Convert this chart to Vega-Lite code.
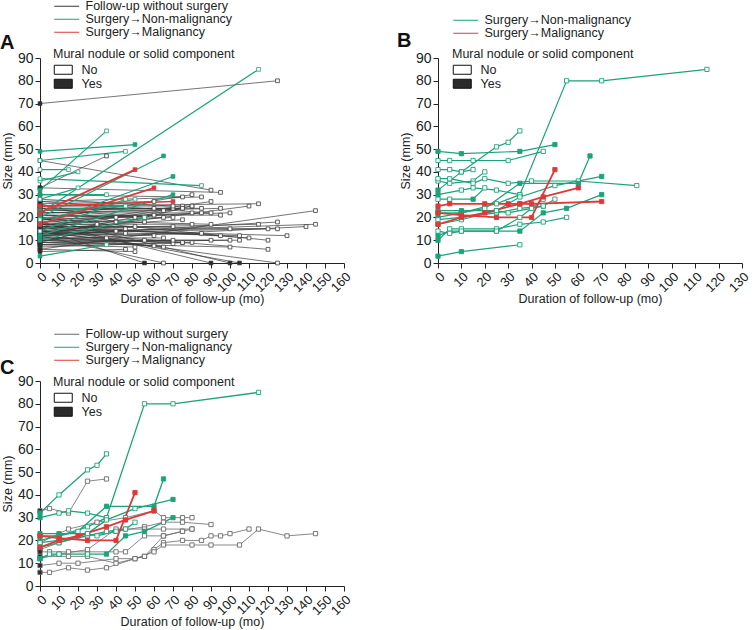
{
"$schema": "https://vega.github.io/schema/vega-lite/v6.json",
"padding": 0,
"background": "white",
"config": {
 "font": "Liberation Sans",
 "view": {"stroke": null},
 "axis": {"grid": false, "domainColor": "#222", "tickColor": "#222", "labelColor": "#222", "titleColor": "#222", "labelFontSize": 14, "titleFontSize": 12.5, "titleFontWeight": "normal", "tickSize": 5, "labelPadding": 2, "labelOverlap": false},
 "legend": {"labelFontSize": 12.5, "titleFontSize": 12.5, "titleFontWeight": "normal", "labelColor": "#222", "titleColor": "#222", "rowPadding": 0, "padding": 0, "orient": "none", "titleLimit": 400, "labelLimit": 400},
 "title": {"font": "Liberation Sans"}
},
"datasets": {"p": [
{"id":"a1","g":"F","t":0,"s":70,"n":"Y","c":0},{"id":"a1","g":"F","t":125,"s":80,"n":"N","c":0},
{"id":"a2","g":"F","t":0,"s":45,"n":"Y","c":0},{"id":"a2","g":"F","t":90,"s":32,"n":"N","c":0},
{"id":"a3","g":"F","t":0,"s":33,"n":"Y","c":0},{"id":"a3","g":"F","t":95,"s":31,"n":"N","c":0},
{"id":"a4","g":"F","t":0,"s":27,"n":"Y","c":0},{"id":"a4","g":"F","t":85,"s":29,"n":"N","c":0},
{"id":"a5","g":"F","t":0,"s":25,"n":"Y","c":0},{"id":"a5","g":"F","t":115,"s":26,"n":"N","c":0},
{"id":"a6","g":"F","t":0,"s":22,"n":"Y","c":0},{"id":"a6","g":"F","t":95,"s":24,"n":"N","c":0},
{"id":"a7","g":"F","t":0,"s":20,"n":"Y","c":0},{"id":"a7","g":"F","t":100,"s":22,"n":"N","c":0},
{"id":"a8","g":"F","t":0,"s":18,"n":"Y","c":0},{"id":"a8","g":"F","t":85,"s":22,"n":"N","c":0},
{"id":"a9","g":"F","t":0,"s":10,"n":"Y","c":0},{"id":"a9","g":"F","t":140,"s":16,"n":"N","c":0},
{"id":"a10","g":"F","t":0,"s":13,"n":"Y","c":0},{"id":"a10","g":"F","t":145,"s":17,"n":"N","c":0},
{"id":"a11","g":"F","t":0,"s":12,"n":"Y","c":0},{"id":"a11","g":"F","t":125,"s":18,"n":"N","c":0},
{"id":"a12","g":"F","t":0,"s":15,"n":"Y","c":0},{"id":"a12","g":"F","t":115,"s":17,"n":"N","c":0},
{"id":"a13","g":"F","t":0,"s":13,"n":"Y","c":0},{"id":"a13","g":"F","t":120,"s":15,"n":"N","c":0},
{"id":"a14","g":"F","t":0,"s":16,"n":"Y","c":0},{"id":"a14","g":"F","t":125,"s":15,"n":"N","c":0},
{"id":"a15","g":"F","t":0,"s":14,"n":"Y","c":0},{"id":"a15","g":"F","t":100,"s":15,"n":"N","c":0},
{"id":"a16","g":"F","t":0,"s":19,"n":"Y","c":0},{"id":"a16","g":"F","t":90,"s":17,"n":"N","c":0},
{"id":"a17","g":"F","t":0,"s":15,"n":"Y","c":0},{"id":"a17","g":"F","t":130,"s":12,"n":"N","c":0},
{"id":"a18","g":"F","t":0,"s":17,"n":"Y","c":0},{"id":"a18","g":"F","t":110,"s":11,"n":"N","c":0},
{"id":"a19","g":"F","t":0,"s":14,"n":"Y","c":0},{"id":"a19","g":"F","t":105,"s":12,"n":"N","c":0},
{"id":"a20","g":"F","t":0,"s":10,"n":"Y","c":0},{"id":"a20","g":"F","t":105,"s":10,"n":"N","c":0},
{"id":"a21","g":"F","t":0,"s":9,"n":"Y","c":0},{"id":"a21","g":"F","t":100,"s":10,"n":"N","c":0},
{"id":"a22","g":"F","t":0,"s":20,"n":"Y","c":0},{"id":"a22","g":"F","t":120,"s":10,"n":"N","c":0},
{"id":"a23","g":"F","t":0,"s":16,"n":"Y","c":0},{"id":"a23","g":"F","t":95,"s":12,"n":"N","c":0},
{"id":"a24","g":"F","t":0,"s":12,"n":"Y","c":0},{"id":"a24","g":"F","t":85,"s":13,"n":"N","c":0},
{"id":"a25","g":"F","t":0,"s":11,"n":"Y","c":0},{"id":"a25","g":"F","t":75,"s":9,"n":"N","c":0},
{"id":"a26","g":"F","t":0,"s":8,"n":"Y","c":0},{"id":"a26","g":"F","t":80,"s":9,"n":"N","c":0},
{"id":"a27","g":"F","t":0,"s":13,"n":"Y","c":0},{"id":"a27","g":"F","t":70,"s":8.5,"n":"N","c":0},
{"id":"a28","g":"F","t":0,"s":9,"n":"Y","c":0},{"id":"a28","g":"F","t":100,"s":7,"n":"N","c":0},
{"id":"a29","g":"F","t":0,"s":14,"n":"Y","c":0},{"id":"a29","g":"F","t":120,"s":6,"n":"N","c":0},
{"id":"a30","g":"F","t":0,"s":12,"n":"Y","c":0},{"id":"a30","g":"F","t":65,"s":7,"n":"N","c":0},
{"id":"a31","g":"F","t":0,"s":10,"n":"Y","c":0},{"id":"a31","g":"F","t":60,"s":7.5,"n":"N","c":0},
{"id":"a32","g":"F","t":0,"s":8,"n":"Y","c":0},{"id":"a32","g":"F","t":50,"s":7,"n":"N","c":0},
{"id":"a33","g":"F","t":0,"s":15,"n":"Y","c":0},{"id":"a33","g":"F","t":55,"s":0,"n":"Y","c":0},
{"id":"a34","g":"F","t":0,"s":12,"n":"Y","c":0},{"id":"a34","g":"F","t":65,"s":0,"n":"N","c":0},
{"id":"a35","g":"F","t":0,"s":18,"n":"Y","c":0},{"id":"a35","g":"F","t":90,"s":0,"n":"Y","c":0},
{"id":"a36","g":"F","t":0,"s":20,"n":"Y","c":0},{"id":"a36","g":"F","t":100,"s":0,"n":"Y","c":0},
{"id":"a37","g":"F","t":0,"s":16,"n":"Y","c":0},{"id":"a37","g":"F","t":105,"s":0,"n":"Y","c":0},
{"id":"a38","g":"F","t":0,"s":14,"n":"Y","c":0},{"id":"a38","g":"F","t":125,"s":0,"n":"N","c":0},
{"id":"a39","g":"F","t":0,"s":24,"n":"Y","c":0},{"id":"a39","g":"F","t":70,"s":24,"n":"N","c":0},
{"id":"a40","g":"F","t":0,"s":22,"n":"Y","c":0},{"id":"a40","g":"F","t":65,"s":23,"n":"N","c":0},
{"id":"a41","g":"F","t":0,"s":23,"n":"Y","c":0},{"id":"a41","g":"F","t":75,"s":24,"n":"N","c":0},
{"id":"a42","g":"F","t":0,"s":17,"n":"Y","c":0},{"id":"a42","g":"F","t":70,"s":20,"n":"N","c":0},
{"id":"a43","g":"F","t":0,"s":15,"n":"Y","c":0},{"id":"a43","g":"F","t":75,"s":19,"n":"N","c":0},
{"id":"a44","g":"F","t":0,"s":21,"n":"Y","c":0},{"id":"a44","g":"F","t":65,"s":20,"n":"N","c":0},
{"id":"a45","g":"F","t":0,"s":19,"n":"Y","c":0},{"id":"a45","g":"F","t":60,"s":21,"n":"N","c":0},
{"id":"a46","g":"F","t":0,"s":13,"n":"Y","c":0},{"id":"a46","g":"F","t":60,"s":12,"n":"N","c":0},
{"id":"a47","g":"F","t":0,"s":11,"n":"Y","c":0},{"id":"a47","g":"F","t":65,"s":11,"n":"N","c":0},
{"id":"a48","g":"F","t":0,"s":9,"n":"Y","c":0},{"id":"a48","g":"F","t":70,"s":10,"n":"N","c":0},
{"id":"a49","g":"F","t":0,"s":7,"n":"Y","c":0},{"id":"a49","g":"F","t":75,"s":9,"n":"N","c":0},
{"id":"a50","g":"F","t":0,"s":26,"n":"Y","c":0},{"id":"a50","g":"F","t":40,"s":18,"n":"N","c":0},
{"id":"a51","g":"F","t":0,"s":24,"n":"Y","c":0},{"id":"a51","g":"F","t":55,"s":20,"n":"N","c":0},
{"id":"a52","g":"F","t":0,"s":21,"n":"Y","c":0},{"id":"a52","g":"F","t":50,"s":20,"n":"N","c":0},
{"id":"a53","g":"F","t":0,"s":28,"n":"Y","c":0},{"id":"a53","g":"F","t":70,"s":25,"n":"N","c":0},
{"id":"a54","g":"F","t":0,"s":25,"n":"Y","c":0},{"id":"a54","g":"F","t":75,"s":25,"n":"N","c":0},
{"id":"a55","g":"F","t":0,"s":23,"n":"Y","c":0},{"id":"a55","g":"F","t":60,"s":24,"n":"N","c":0},
{"id":"a56","g":"F","t":0,"s":18,"n":"Y","c":0},{"id":"a56","g":"F","t":55,"s":18,"n":"N","c":0},
{"id":"a57","g":"F","t":0,"s":16,"n":"Y","c":0},{"id":"a57","g":"F","t":50,"s":16,"n":"N","c":0},
{"id":"a58","g":"F","t":0,"s":14,"n":"Y","c":0},{"id":"a58","g":"F","t":45,"s":15,"n":"N","c":0},
{"id":"a59","g":"F","t":0,"s":12,"n":"Y","c":0},{"id":"a59","g":"F","t":40,"s":14,"n":"N","c":0},
{"id":"a60","g":"F","t":0,"s":11,"n":"Y","c":0},{"id":"a60","g":"F","t":35,"s":11,"n":"N","c":0},
{"id":"a61","g":"F","t":0,"s":22,"n":"Y","c":0},{"id":"a61","g":"F","t":80,"s":22,"n":"N","c":0},
{"id":"a62","g":"F","t":0,"s":6,"n":"Y","c":0},{"id":"a62","g":"F","t":50,"s":5,"n":"N","c":0},
{"id":"a63","g":"F","t":0,"s":19,"n":"Y","c":0},{"id":"a63","g":"F","t":40,"s":20,"n":"N","c":0},
{"id":"a64","g":"F","t":0,"s":17,"n":"Y","c":0},{"id":"a64","g":"F","t":30,"s":17,"n":"N","c":0},
{"id":"a65","g":"F","t":0,"s":26,"n":"Y","c":0},{"id":"a65","g":"F","t":60,"s":27,"n":"N","c":0},
{"id":"a66","g":"F","t":0,"s":24,"n":"Y","c":0},{"id":"a66","g":"F","t":85,"s":24,"n":"N","c":0},
{"id":"a67","g":"F","t":0,"s":17,"n":"Y","c":0},{"id":"a67","g":"F","t":80,"s":17,"n":"N","c":0},
{"id":"a68","g":"F","t":0,"s":10,"n":"Y","c":0},{"id":"a68","g":"F","t":90,"s":10,"n":"N","c":0},
{"id":"a69","g":"F","t":0,"s":8,"n":"Y","c":0},{"id":"a69","g":"F","t":55,"s":10,"n":"N","c":0},
{"id":"a70","g":"F","t":0,"s":30,"n":"Y","c":0},{"id":"a70","g":"F","t":75,"s":29,"n":"N","c":0},
{"id":"a71","g":"F","t":0,"s":27,"n":"Y","c":0},{"id":"a71","g":"F","t":90,"s":22,"n":"N","c":0},
{"id":"a72","g":"F","t":0,"s":5,"n":"Y","c":0},{"id":"a72","g":"F","t":45,"s":6,"n":"N","c":0},
{"id":"a73","g":"F","t":0,"s":21,"n":"Y","c":0},{"id":"a73","g":"F","t":95,"s":21,"n":"N","c":0},
{"id":"a74","g":"F","t":0,"s":16,"n":"Y","c":0},{"id":"a74","g":"F","t":70,"s":16,"n":"N","c":0},
{"id":"a75","g":"F","t":0,"s":13,"n":"Y","c":0},{"id":"a75","g":"F","t":45,"s":13,"n":"N","c":0},
{"id":"c1","g":"F","t":0,"s":33,"n":"Y","c":1},{"id":"c1","g":"F","t":5,"s":34,"n":"N","c":1},{"id":"c1","g":"F","t":15,"s":32,"n":"N","c":1},{"id":"c1","g":"F","t":25,"s":46,"n":"N","c":1},{"id":"c1","g":"F","t":35,"s":47,"n":"N","c":1},
{"id":"c2","g":"F","t":0,"s":19,"n":"Y","c":1},{"id":"c2","g":"F","t":15,"s":25,"n":"N","c":1},{"id":"c2","g":"F","t":30,"s":28,"n":"N","c":1},{"id":"c2","g":"F","t":45,"s":30,"n":"N","c":1},{"id":"c2","g":"F","t":60,"s":33,"n":"N","c":1},{"id":"c2","g":"F","t":65,"s":30,"n":"N","c":1},{"id":"c2","g":"F","t":75,"s":30,"n":"N","c":1},{"id":"c2","g":"F","t":80,"s":30,"n":"N","c":1},
{"id":"c3","g":"F","t":0,"s":16,"n":"Y","c":1},{"id":"c3","g":"F","t":10,"s":19,"n":"N","c":1},{"id":"c3","g":"F","t":25,"s":22,"n":"N","c":1},{"id":"c3","g":"F","t":40,"s":24,"n":"N","c":1},{"id":"c3","g":"F","t":55,"s":26,"n":"N","c":1},{"id":"c3","g":"F","t":65,"s":28,"n":"N","c":1},{"id":"c3","g":"F","t":75,"s":28,"n":"N","c":1},{"id":"c3","g":"F","t":90,"s":27,"n":"N","c":1},
{"id":"c4","g":"F","t":0,"s":15,"n":"Y","c":1},{"id":"c4","g":"F","t":5,"s":15,"n":"N","c":1},{"id":"c4","g":"F","t":15,"s":15,"n":"N","c":1},{"id":"c4","g":"F","t":25,"s":15,"n":"N","c":1},{"id":"c4","g":"F","t":40,"s":15,"n":"N","c":1},{"id":"c4","g":"F","t":45,"s":15,"n":"N","c":1},{"id":"c4","g":"F","t":55,"s":22,"n":"N","c":1},{"id":"c4","g":"F","t":65,"s":22,"n":"N","c":1},{"id":"c4","g":"F","t":75,"s":24,"n":"N","c":1},{"id":"c4","g":"F","t":80,"s":25,"n":"N","c":1},
{"id":"c5","g":"F","t":0,"s":13,"n":"Y","c":1},{"id":"c5","g":"F","t":15,"s":13,"n":"N","c":1},{"id":"c5","g":"F","t":25,"s":13,"n":"N","c":1},{"id":"c5","g":"F","t":40,"s":10,"n":"N","c":1},{"id":"c5","g":"F","t":55,"s":13,"n":"N","c":1},{"id":"c5","g":"F","t":60,"s":16,"n":"N","c":1},{"id":"c5","g":"F","t":65,"s":19,"n":"N","c":1},{"id":"c5","g":"F","t":75,"s":20,"n":"N","c":1},{"id":"c5","g":"F","t":85,"s":20,"n":"N","c":1},{"id":"c5","g":"F","t":90,"s":22,"n":"N","c":1},{"id":"c5","g":"F","t":95,"s":22,"n":"N","c":1},{"id":"c5","g":"F","t":100,"s":23,"n":"N","c":1},{"id":"c5","g":"F","t":110,"s":25,"n":"N","c":1},
{"id":"c6","g":"F","t":0,"s":9,"n":"Y","c":1},{"id":"c6","g":"F","t":10,"s":10,"n":"N","c":1},{"id":"c6","g":"F","t":20,"s":10,"n":"N","c":1},{"id":"c6","g":"F","t":40,"s":12,"n":"N","c":1},{"id":"c6","g":"F","t":50,"s":12,"n":"N","c":1},{"id":"c6","g":"F","t":55,"s":13,"n":"N","c":1},{"id":"c6","g":"F","t":65,"s":22,"n":"N","c":1},{"id":"c6","g":"F","t":75,"s":24,"n":"N","c":1},
{"id":"c7","g":"F","t":0,"s":6,"n":"Y","c":1},{"id":"c7","g":"F","t":5,"s":6,"n":"N","c":1},{"id":"c7","g":"F","t":15,"s":8,"n":"N","c":1},{"id":"c7","g":"F","t":25,"s":7,"n":"N","c":1},{"id":"c7","g":"F","t":35,"s":8,"n":"N","c":1},{"id":"c7","g":"F","t":50,"s":12,"n":"N","c":1},{"id":"c7","g":"F","t":60,"s":15,"n":"N","c":1},{"id":"c7","g":"F","t":65,"s":18,"n":"N","c":1},{"id":"c7","g":"F","t":80,"s":18,"n":"N","c":1},{"id":"c7","g":"F","t":90,"s":18,"n":"N","c":1},{"id":"c7","g":"F","t":105,"s":18,"n":"N","c":1},{"id":"c7","g":"F","t":115,"s":25,"n":"N","c":1},{"id":"c7","g":"F","t":130,"s":22,"n":"N","c":1},{"id":"c7","g":"F","t":145,"s":23,"n":"N","c":1},
{"id":"c8","g":"F","t":0,"s":12,"n":"Y","c":1},{"id":"c8","g":"F","t":10,"s":14,"n":"N","c":1},{"id":"c8","g":"F","t":25,"s":16,"n":"N","c":1},{"id":"c8","g":"F","t":40,"s":25,"n":"N","c":1},{"id":"c8","g":"F","t":55,"s":25,"n":"N","c":1},{"id":"c8","g":"F","t":65,"s":25,"n":"N","c":1},{"id":"c8","g":"F","t":80,"s":25,"n":"N","c":1},
{"id":"G1","g":"N","t":0,"s":49,"n":"Y","c":0},{"id":"G1","g":"N","t":10,"s":48,"n":"Y","c":0},{"id":"G1","g":"N","t":35,"s":49,"n":"Y","c":0},{"id":"G1","g":"N","t":50,"s":52,"n":"Y","c":0},
{"id":"G2","g":"N","t":0,"s":45,"n":"N","c":0},{"id":"G2","g":"N","t":5,"s":45,"n":"N","c":0},{"id":"G2","g":"N","t":15,"s":45,"n":"N","c":0},{"id":"G2","g":"N","t":30,"s":45,"n":"N","c":0},{"id":"G2","g":"N","t":45,"s":49,"n":"N","c":0},
{"id":"G3","g":"N","t":0,"s":41,"n":"N","c":0},{"id":"G3","g":"N","t":5,"s":41,"n":"N","c":0},{"id":"G3","g":"N","t":10,"s":40,"n":"Y","c":0},{"id":"G3","g":"N","t":15,"s":41,"n":"N","c":0},
{"id":"G4","g":"N","t":0,"s":36,"n":"N","c":0},{"id":"G4","g":"N","t":5,"s":35,"n":"N","c":0},{"id":"G4","g":"N","t":15,"s":36,"n":"N","c":0},{"id":"G4","g":"N","t":20,"s":40,"n":"N","c":0},
{"id":"G5","g":"N","t":0,"s":37,"n":"N","c":0},{"id":"G5","g":"N","t":5,"s":37,"n":"N","c":0},{"id":"G5","g":"N","t":15,"s":35,"n":"N","c":0},{"id":"G5","g":"N","t":20,"s":37,"n":"N","c":0},{"id":"G5","g":"N","t":30,"s":35,"n":"N","c":0},{"id":"G5","g":"N","t":40,"s":36,"n":"N","c":0},{"id":"G5","g":"N","t":60,"s":36,"n":"N","c":0},{"id":"G5","g":"N","t":85,"s":34,"n":"N","c":0},
{"id":"G6","g":"N","t":0,"s":32,"n":"Y","c":1},{"id":"G6","g":"N","t":10,"s":40,"n":"N","c":1},{"id":"G6","g":"N","t":25,"s":51,"n":"N","c":1},{"id":"G6","g":"N","t":30,"s":53,"n":"N","c":1},{"id":"G6","g":"N","t":35,"s":58,"n":"N","c":1},
{"id":"G7","g":"N","t":0,"s":30,"n":"Y","c":1},{"id":"G7","g":"N","t":10,"s":32,"n":"N","c":1},{"id":"G7","g":"N","t":15,"s":33,"n":"N","c":1},{"id":"G7","g":"N","t":25,"s":32,"n":"N","c":1},{"id":"G7","g":"N","t":35,"s":30,"n":"N","c":1},
{"id":"G8","g":"N","t":0,"s":28,"n":"N","c":0},{"id":"G8","g":"N","t":5,"s":28,"n":"N","c":0},{"id":"G8","g":"N","t":15,"s":28,"n":"Y","c":0},{"id":"G8","g":"N","t":20,"s":33,"n":"N","c":0},
{"id":"G9","g":"N","t":0,"s":22,"n":"N","c":1},{"id":"G9","g":"N","t":10,"s":22,"n":"N","c":1},{"id":"G9","g":"N","t":25,"s":26,"n":"N","c":1},{"id":"G9","g":"N","t":35,"s":30,"n":"N","c":1},{"id":"G9","g":"N","t":55,"s":80,"n":"N","c":1},{"id":"G9","g":"N","t":70,"s":80,"n":"N","c":1},{"id":"G9","g":"N","t":115,"s":85,"n":"N","c":1},
{"id":"G10","g":"N","t":0,"s":20,"n":"Y","c":1},{"id":"G10","g":"N","t":10,"s":22,"n":"N","c":1},{"id":"G10","g":"N","t":20,"s":24,"n":"N","c":1},{"id":"G10","g":"N","t":35,"s":35,"n":"Y","c":1},{"id":"G10","g":"N","t":60,"s":35,"n":"Y","c":1},{"id":"G10","g":"N","t":65,"s":47,"n":"Y","c":1},
{"id":"G11","g":"N","t":0,"s":19,"n":"N","c":1},{"id":"G11","g":"N","t":10,"s":20,"n":"N","c":1},{"id":"G11","g":"N","t":25,"s":22,"n":"N","c":1},{"id":"G11","g":"N","t":35,"s":24,"n":"N","c":1},{"id":"G11","g":"N","t":45,"s":25,"n":"N","c":1},{"id":"G11","g":"N","t":50,"s":28,"n":"N","c":1},
{"id":"G13","g":"N","t":0,"s":23,"n":"Y","c":1},{"id":"G13","g":"N","t":10,"s":23,"n":"Y","c":1},{"id":"G13","g":"N","t":25,"s":23,"n":"Y","c":1},{"id":"G13","g":"N","t":30,"s":22,"n":"N","c":1},{"id":"G13","g":"N","t":40,"s":24,"n":"N","c":1},{"id":"G13","g":"N","t":45,"s":25,"n":"N","c":1},
{"id":"G14","g":"N","t":0,"s":12,"n":"Y","c":1},{"id":"G14","g":"N","t":5,"s":14,"n":"N","c":1},{"id":"G14","g":"N","t":10,"s":14,"n":"N","c":1},{"id":"G14","g":"N","t":25,"s":14,"n":"N","c":1},{"id":"G14","g":"N","t":35,"s":14,"n":"Y","c":1},{"id":"G14","g":"N","t":45,"s":22,"n":"Y","c":1},{"id":"G14","g":"N","t":55,"s":24,"n":"Y","c":1},{"id":"G14","g":"N","t":70,"s":30,"n":"Y","c":1},
{"id":"G15","g":"N","t":0,"s":10,"n":"Y","c":0},{"id":"G15","g":"N","t":5,"s":15,"n":"N","c":0},{"id":"G15","g":"N","t":10,"s":15,"n":"N","c":0},{"id":"G15","g":"N","t":25,"s":15,"n":"N","c":0},{"id":"G15","g":"N","t":35,"s":17,"n":"N","c":0},{"id":"G15","g":"N","t":45,"s":18,"n":"N","c":0},{"id":"G15","g":"N","t":55,"s":20,"n":"N","c":0},
{"id":"G16","g":"N","t":0,"s":3,"n":"Y","c":0},{"id":"G16","g":"N","t":10,"s":5,"n":"Y","c":0},{"id":"G16","g":"N","t":35,"s":8,"n":"N","c":0},
{"id":"G17","g":"N","t":0,"s":17,"n":"N","c":1},{"id":"G17","g":"N","t":10,"s":19,"n":"N","c":1},{"id":"G17","g":"N","t":25,"s":23,"n":"N","c":1},{"id":"G17","g":"N","t":35,"s":29,"n":"N","c":1},{"id":"G17","g":"N","t":50,"s":34,"n":"N","c":1},{"id":"G17","g":"N","t":70,"s":38,"n":"Y","c":1},
{"id":"G18","g":"N","t":0,"s":14,"n":"N","c":0},{"id":"G18","g":"N","t":5,"s":13,"n":"N","c":0},{"id":"G18","g":"N","t":10,"s":14,"n":"N","c":0},{"id":"G18","g":"N","t":25,"s":14,"n":"N","c":0},{"id":"G18","g":"N","t":35,"s":20,"n":"N","c":0},{"id":"G18","g":"N","t":45,"s":28,"n":"N","c":0},
{"id":"R1","g":"M","t":0,"s":25,"n":"Y","c":0},{"id":"R1","g":"M","t":5,"s":26,"n":"Y","c":0},{"id":"R1","g":"M","t":20,"s":26,"n":"Y","c":0},{"id":"R1","g":"M","t":30,"s":26,"n":"Y","c":0},{"id":"R1","g":"M","t":35,"s":26,"n":"Y","c":0},{"id":"R1","g":"M","t":40,"s":26,"n":"Y","c":0},{"id":"R1","g":"M","t":70,"s":27,"n":"Y","c":0},
{"id":"R2","g":"M","t":0,"s":17,"n":"Y","c":1},{"id":"R2","g":"M","t":10,"s":20,"n":"Y","c":1},{"id":"R2","g":"M","t":20,"s":22,"n":"Y","c":1},{"id":"R2","g":"M","t":35,"s":26,"n":"Y","c":1},{"id":"R2","g":"M","t":45,"s":29,"n":"Y","c":1},{"id":"R2","g":"M","t":60,"s":33,"n":"Y","c":1},
{"id":"R3","g":"M","t":0,"s":22,"n":"Y","c":1},{"id":"R3","g":"M","t":10,"s":21,"n":"Y","c":1},{"id":"R3","g":"M","t":25,"s":20,"n":"Y","c":1},{"id":"R3","g":"M","t":40,"s":20,"n":"Y","c":1},{"id":"R3","g":"M","t":50,"s":41,"n":"Y","c":1}
]},
"columns": 2,
"spacing": {"row": 118, "column": 94},
"bounds": "flush",
"resolve": {"scale": {"stroke": "independent", "fill": "independent", "x": "independent", "y": "independent"}, "legend": {"stroke": "independent", "fill": "independent"}},
"concat": [
{
 "width": 304, "height": 205,
 "title": {"text": "A", "anchor": "start", "frame": "group", "orient": "top", "dx": -40, "dy": 53, "offset": 0, "fontSize": 20, "fontWeight": "bold", "color": "#111"},
 "data": {"name": "p"},
 "transform": [
  {"joinaggregate": [{"op": "max", "field": "t", "as": "mt"}], "groupby": ["id"]},
  {"filter": "datum.t == 0 || datum.t == datum.mt"},
  {"calculate": "datum.n == 'N' ? 'No' : (datum.g == 'F' ? 'Yes' : 'Y' + datum.g)", "as": "fk"}
 ],
 "encoding": {
  "x": {"field": "t", "type": "quantitative", "title": "Duration of follow-up (mo)", "scale": {"domain": [0, 160], "nice": false}, "axis": {"values": [0,10,20,30,40,50,60,70,80,90,100,110,120,130,140,150,160], "labelAngle": -45, "labelFontSize": 13, "titlePadding": -2}},
  "y": {"field": "s", "type": "quantitative", "title": "Size (mm)", "scale": {"domain": [0, 90], "nice": false}, "axis": {"values": [0,10,20,30,40,50,60,70,80,90], "titlePadding": 3}}
 },
 "layer": [
  {"mark": {"type": "line"}, "encoding": {
    "detail": {"field": "id"},
    "stroke": {"field": "g", "type": "nominal", "scale": {"domain": ["F","N","M"], "range": ["#3a3a3a","#1ba37b","#e0383a"]}, "legend": {"title": null, "symbolType": "M-1,0H4", "symbolSize": 100, "symbolStrokeWidth": 1, "labelOffset": 20, "legendX": 13, "legendY": -58, "labelExpr": "datum.value == 'F' ? 'Follow-up without surgery' : datum.value == 'N' ? 'Surgery→Non-malignancy' : 'Surgery→Malignancy'"}},
    "strokeWidth": {"condition": [{"test": "datum.g == 'M'", "value": 1.7}, {"test": "datum.g == 'F'", "value": 0.7}], "value": 1.2}
  }},
  {"mark": {"type": "point", "shape": "square", "size": 14, "strokeWidth": 0.8, "opacity": 1}, "encoding": {
    "stroke": {"field": "g", "type": "nominal", "scale": {"domain": ["F","N","M"], "range": ["#3a3a3a","#1ba37b","#e0383a"]}, "legend": {"title": null, "symbolType": "M-1,0H4", "symbolSize": 100, "symbolStrokeWidth": 1, "labelOffset": 20, "legendX": 13, "legendY": -58, "labelExpr": "datum.value == 'F' ? 'Follow-up without surgery' : datum.value == 'N' ? 'Surgery→Non-malignancy' : 'Surgery→Malignancy'"}},
    "fill": {"field": "fk", "type": "nominal", "scale": {"domain": ["No","Yes","YN","YM"], "range": ["white","#2a2a2a","#1ba37b","#e0383a"]}, "legend": {"title": "Mural nodule or solid component", "values": ["No","Yes"], "symbolType": "M-1,-0.9H2.6V0.9H-1Z", "symbolSize": 100, "symbolStrokeColor": "#111", "symbolStrokeWidth": 1, "labelOffset": 16, "legendX": 13, "legendY": -10, "titlePadding": 3}}
  }}
 ]
},
{
 "width": 304, "height": 205,
 "title": {"text": "B", "anchor": "start", "frame": "group", "orient": "top", "dx": -41, "dy": 37, "offset": 0, "fontSize": 20, "fontWeight": "bold", "color": "#111"},
 "data": {"name": "p"},
 "transform": [
  {"filter": "datum.g != 'F'"},
  {"calculate": "datum.n == 'N' ? 'No' : (datum.g == 'F' ? 'Yes' : 'Y' + datum.g)", "as": "fk"}
 ],
 "encoding": {
  "x": {"field": "t", "type": "quantitative", "title": "Duration of follow-up (mo)", "scale": {"domain": [0, 130], "nice": false}, "axis": {"values": [0,10,20,30,40,50,60,70,80,90,100,110,120,130], "labelAngle": -45, "labelFontSize": 13, "titlePadding": -2}},
  "y": {"field": "s", "type": "quantitative", "title": "Size (mm)", "scale": {"domain": [0, 90], "nice": false}, "axis": {"values": [0,10,20,30,40,50,60,70,80,90], "titlePadding": 3}}
 },
 "layer": [
  {"mark": {"type": "line"}, "encoding": {
    "detail": {"field": "id"},
    "stroke": {"field": "g", "type": "nominal", "scale": {"domain": ["N","M"], "range": ["#1ba37b","#e0383a"]}, "legend": {"title": null, "symbolType": "M-1,0H4", "symbolSize": 100, "symbolStrokeWidth": 1, "labelOffset": 20, "legendX": 14, "legendY": -44, "labelExpr": "datum.value == 'N' ? 'Surgery→Non-malignancy' : 'Surgery→Malignancy'"}},
    "strokeWidth": {"condition": {"test": "datum.g == 'M'", "value": 1.8}, "value": 1.2}
  }},
  {"mark": {"type": "point", "shape": "square", "size": 18, "strokeWidth": 0.9, "opacity": 1}, "encoding": {
    "stroke": {"field": "g", "type": "nominal", "scale": {"domain": ["N","M"], "range": ["#1ba37b","#e0383a"]}, "legend": {"title": null, "symbolType": "M-1,0H4", "symbolSize": 100, "symbolStrokeWidth": 1, "labelOffset": 20, "legendX": 14, "legendY": -44, "labelExpr": "datum.value == 'N' ? 'Surgery→Non-malignancy' : 'Surgery→Malignancy'"}},
    "fill": {"field": "fk", "type": "nominal", "scale": {"domain": ["No","Yes","YN","YM"], "range": ["white","#2a2a2a","#1ba37b","#e0383a"]}, "legend": {"title": "Mural nodule or solid component", "values": ["No","Yes"], "symbolType": "M-1,-0.9H2.6V0.9H-1Z", "symbolSize": 100, "symbolStrokeColor": "#111", "symbolStrokeWidth": 1, "labelOffset": 16, "legendX": 14, "legendY": -10, "titlePadding": 3}}
  }}
 ]
},
{
 "width": 304, "height": 205,
 "title": {"text": "C", "anchor": "start", "frame": "group", "orient": "top", "dx": -40, "dy": 50, "offset": 0, "fontSize": 20, "fontWeight": "bold", "color": "#111"},
 "data": {"name": "p"},
 "transform": [
  {"filter": "datum.c == 1"},
  {"calculate": "datum.n == 'N' ? 'No' : (datum.g == 'F' ? 'Yes' : 'Y' + datum.g)", "as": "fk"}
 ],
 "encoding": {
  "x": {"field": "t", "type": "quantitative", "title": "Duration of follow-up (mo)", "scale": {"domain": [0, 160], "nice": false}, "axis": {"values": [0,10,20,30,40,50,60,70,80,90,100,110,120,130,140,150,160], "labelAngle": -45, "labelFontSize": 13, "titlePadding": -2}},
  "y": {"field": "s", "type": "quantitative", "title": "Size (mm)", "scale": {"domain": [0, 90], "nice": false}, "axis": {"values": [0,10,20,30,40,50,60,70,80,90], "titlePadding": 3}}
 },
 "layer": [
  {"mark": {"type": "line"}, "encoding": {
    "detail": {"field": "id"},
    "stroke": {"field": "g", "type": "nominal", "scale": {"domain": ["F","N","M"], "range": ["#6a6a6a","#1ba37b","#e0383a"]}, "legend": {"title": null, "symbolType": "M-1,0H4", "symbolSize": 100, "symbolStrokeWidth": 1, "labelOffset": 20, "legendX": 13, "legendY": -53, "labelExpr": "datum.value == 'F' ? 'Follow-up without surgery' : datum.value == 'N' ? 'Surgery→Non-malignancy' : 'Surgery→Malignancy'"}},
    "strokeWidth": {"condition": [{"test": "datum.g == 'M'", "value": 1.8}, {"test": "datum.g == 'F'", "value": 0.8}], "value": 1.3}
  }},
  {"mark": {"type": "point", "shape": "square", "size": 18, "strokeWidth": 0.9, "opacity": 1}, "encoding": {
    "stroke": {"field": "g", "type": "nominal", "scale": {"domain": ["F","N","M"], "range": ["#6a6a6a","#1ba37b","#e0383a"]}, "legend": {"title": null, "symbolType": "M-1,0H4", "symbolSize": 100, "symbolStrokeWidth": 1, "labelOffset": 20, "legendX": 13, "legendY": -53, "labelExpr": "datum.value == 'F' ? 'Follow-up without surgery' : datum.value == 'N' ? 'Surgery→Non-malignancy' : 'Surgery→Malignancy'"}},
    "fill": {"field": "fk", "type": "nominal", "scale": {"domain": ["No","Yes","YN","YM"], "range": ["white","#2a2a2a","#1ba37b","#e0383a"]}, "legend": {"title": "Mural nodule or solid component", "values": ["No","Yes"], "symbolType": "M-1,-0.9H2.6V0.9H-1Z", "symbolSize": 100, "symbolStrokeColor": "#111", "symbolStrokeWidth": 1, "labelOffset": 16, "legendX": 13, "legendY": -5, "titlePadding": 3}}
  }}
 ]
}
]
}
